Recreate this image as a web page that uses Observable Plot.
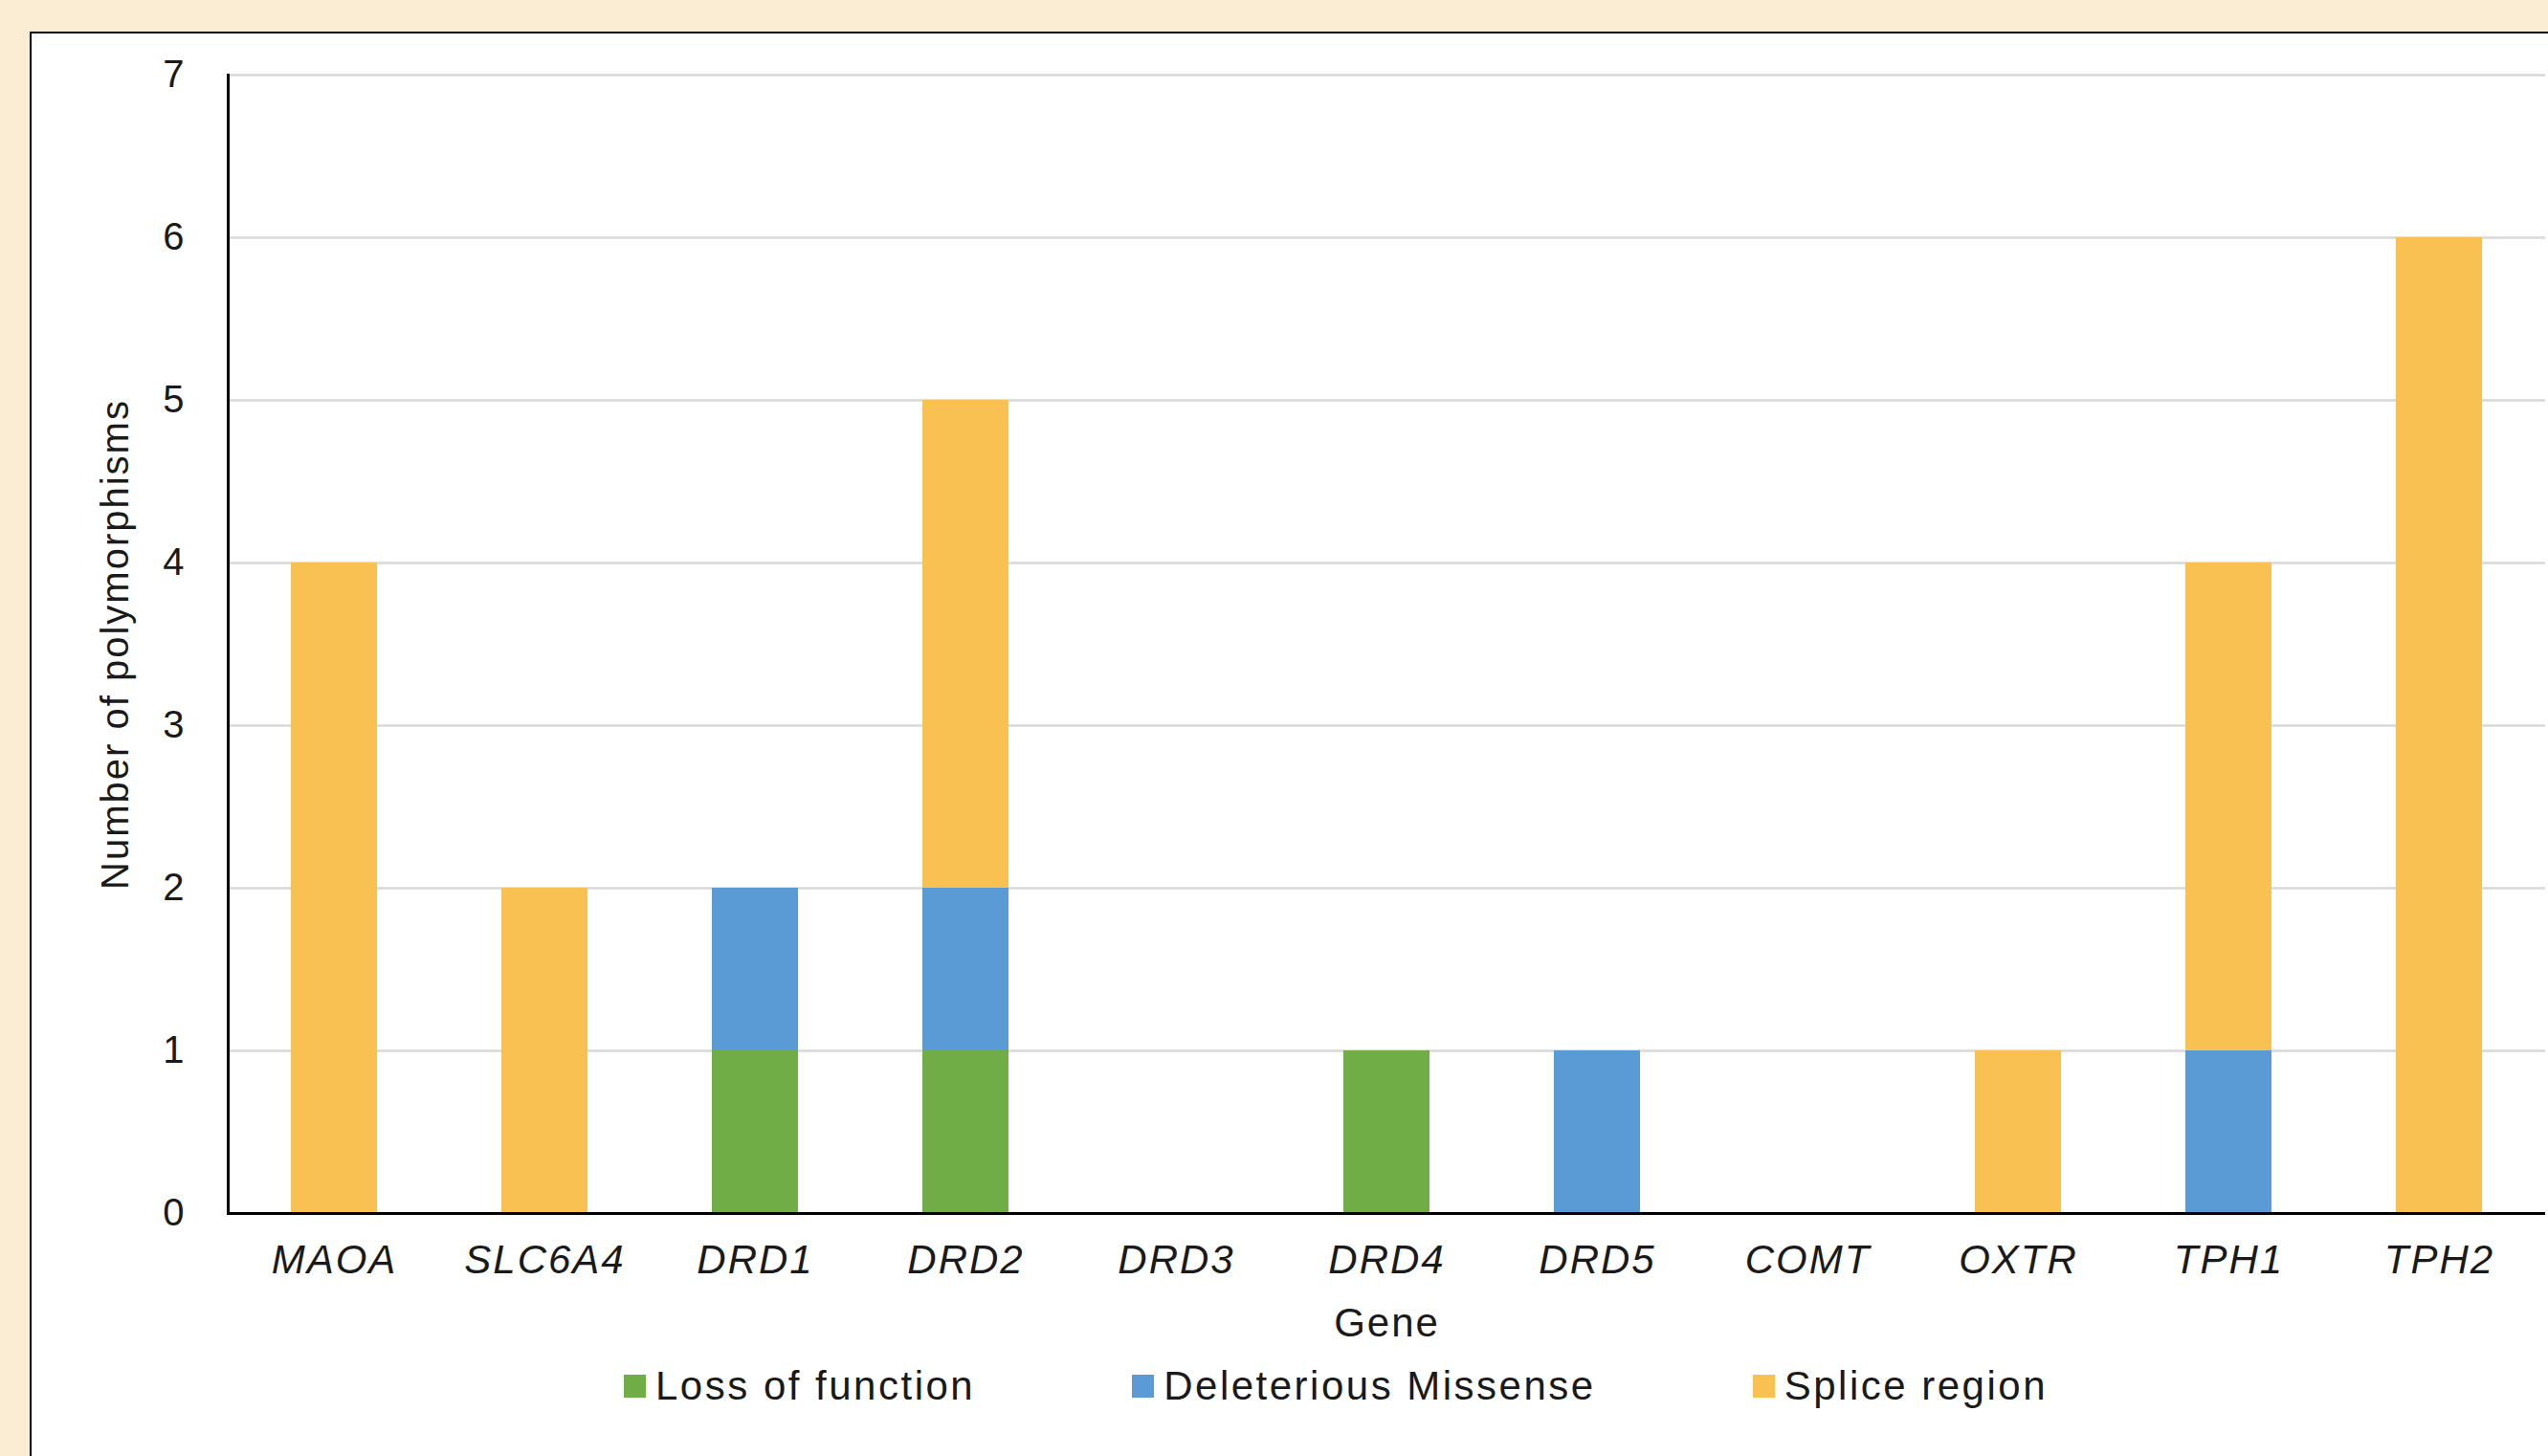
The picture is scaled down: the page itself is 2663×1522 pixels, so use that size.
<!DOCTYPE html>
<html>
<head>
<meta charset="utf-8">
<script src="https://cdn.jsdelivr.net/npm/d3@7"></script>
<script src="https://cdn.jsdelivr.net/npm/@observablehq/plot@0.6"></script>
<style>
  html, body { margin: 0; padding: 0; width: 2663px; height: 1522px; overflow: hidden; background: #FBEDD4; font-family: "Liberation Sans", Arial, sans-serif; }
  #panel { position: absolute; left: 31px; top: 33px; width: 2700px; height: 1560px; background: #fff; border-left: 2px solid #000; border-top: 2px solid #000; }
  #chart { position: absolute; left: 0; top: 0; }
  #chart svg { overflow: visible; }
  #chart g[aria-label="x-axis tick label"] text { font-style: italic; }
  #legend { position: absolute; left: 619px; top: 1388px; height: 52px; display: flex; align-items: center; gap: 164px; font-size: 42px; color: #1a1a1a; letter-spacing: 2.5px; }
  .item { display: flex; align-items: center; gap: 10px; white-space: nowrap; }
  .sw { width: 23px; height: 24px; display: inline-block; }
</style>
</head>
<body>
<div id="panel">
  <div id="chart"></div>
  <div id="legend"></div>
</div>
<script>
const genes = ["MAOA", "SLC6A4", "DRD1", "DRD2", "DRD3", "DRD4", "DRD5", "COMT", "OXTR", "TPH1", "TPH2"];
const categories = ["Loss of function", "Deleterious Missense", "Splice region"];
const lossOfFunction      = [0, 0, 1, 1, 0, 1, 0, 0, 0, 0, 0];
const deleteriousMissense = [0, 0, 1, 1, 0, 0, 1, 0, 0, 1, 0];
const spliceRegion        = [4, 2, 0, 3, 0, 0, 0, 0, 1, 3, 6];
const colors = ["#70AD47", "#5B9BD5", "#F9C152"];
const yTicks = [0, 1, 2, 3, 4, 5, 6, 7];

const series = [lossOfFunction, deleteriousMissense, spliceRegion];
const data = [];
categories.forEach((cat, ci) => {
  genes.forEach((g, gi) => {
    const v = series[ci][gi];
    if (v > 0) data.push({gene: g, type: cat, count: v});
  });
});

const marginBottom = 175;
const chart = Plot.plot({
  width: 2630,
  height: 1233 + marginBottom,
  marginLeft: 205,
  marginRight: 3,
  marginTop: 43,
  marginBottom,
  style: {fontFamily: "'Liberation Sans', Arial, sans-serif", fontSize: "40px", color: "#1a1a1a", background: "transparent", letterSpacing: "2px"},
  x: {domain: genes, paddingInner: 0.59, paddingOuter: 0.295},
  y: {domain: [0, 7]},
  color: {domain: categories, range: colors},
  marks: [
    Plot.gridY(yTicks, {stroke: "#d9d9d9", strokeOpacity: 1, strokeWidth: 2.5}),
    Plot.barY(data, {x: "gene", y: "count", fill: "type"}),
    Plot.ruleY([0], {stroke: "#000", strokeWidth: 3}),
    Plot.frame({anchor: "left", stroke: "#000", strokeWidth: 3}),
    Plot.axisY(yTicks, {tickSize: 0, tickPadding: 44, fontSize: 40, tickFormat: d => String(d), label: "Number of polymorphisms", labelArrow: "none", labelAnchor: "center", labelOffset: 133}),
    Plot.axisX({tickSize: 0, tickPadding: 33, fontSize: 42, label: "Gene", labelArrow: "none", labelAnchor: "center", labelOffset: 128})
  ]
});
document.getElementById("chart").appendChild(chart);

const legend = document.getElementById("legend");
categories.forEach((cat, i) => {
  const it = document.createElement("div");
  it.className = "item";
  const sw = document.createElement("span");
  sw.className = "sw";
  sw.style.background = colors[i];
  const t = document.createElement("span");
  t.textContent = cat;
  it.appendChild(sw);
  it.appendChild(t);
  legend.appendChild(it);
});
</script>
</body>
</html>
